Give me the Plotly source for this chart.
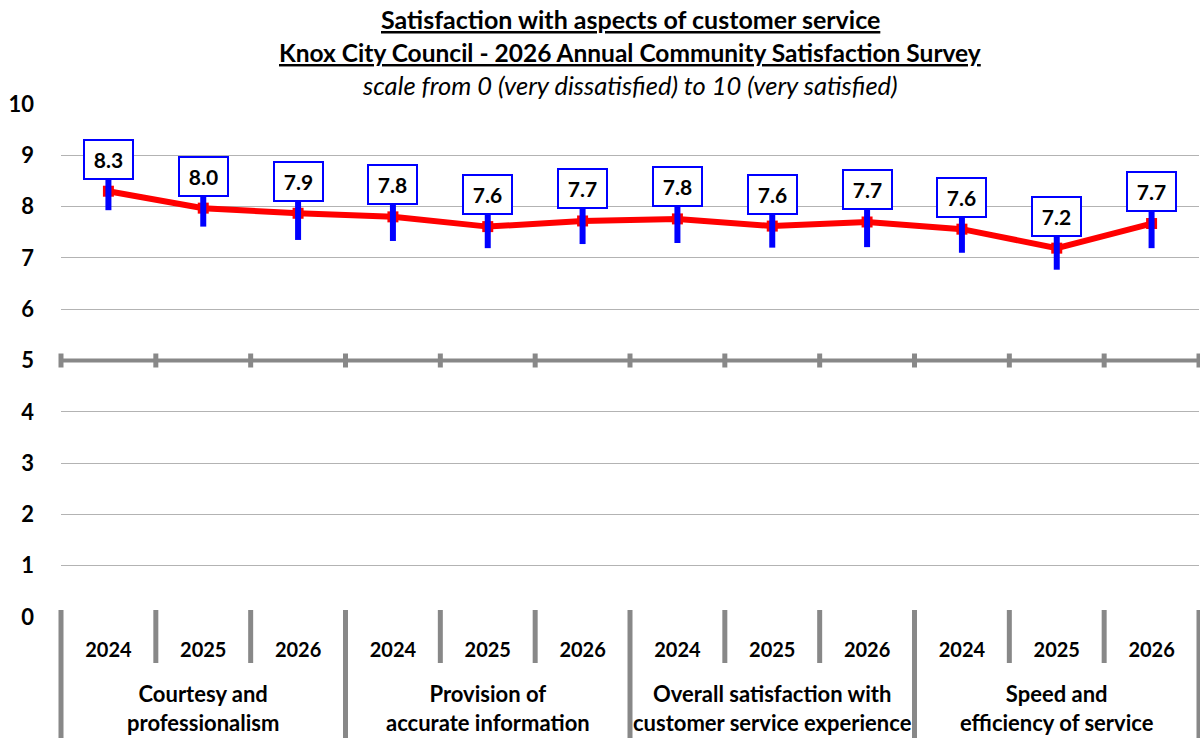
import plotly.graph_objects as go

groups = ["Courtesy and<br>professionalism",
          "Provision of<br>accurate information",
          "Overall satisfaction with<br>customer service experience",
          "Speed and<br>efficiency of service"]
years = ["2024", "2025", "2026"]
scores = [8.30, 7.97, 7.87, 7.80, 7.61, 7.72, 7.76, 7.62, 7.70, 7.56, 7.19, 7.67]
errors = [0.37, 0.36, 0.52, 0.47, 0.42, 0.45, 0.47, 0.42, 0.49, 0.46, 0.42, 0.48]
y_ticks = list(range(0, 11))
title_lines = ["<b><u>Satisfaction with aspects of customer service</u></b>",
               "<b><u>Knox City Council - 2026 Annual Community Satisfaction Survey</u></b>",
               "<i>scale from 0 (very dissatisfied) to 10 (very satisfied)</i>"]

FONT = "Lato"
GRAY = "#888888"
W, H = 1200, 738
WIN_LEFT, WIN_RIGHT, WIN_TOP, WIN_AXIS = 61, 1199, 104, 617
ML = WIN_LEFT
MR = W - WIN_RIGHT
MT = WIN_TOP
MB = H - WIN_AXIS
PLOT_H = WIN_AXIS - WIN_TOP

n = len(scores)
xs = list(range(n))
ticktext = [years[i % len(years)] for i in xs]
x_lo, x_hi = -0.5, n - 0.5


def xfrac(v):
    return (v - x_lo) / (x_hi - x_lo)


def pfrac(win_row):  # pixel row -> paper fraction
    return (WIN_AXIS - win_row) / PLOT_H


fig = go.Figure()
fig.add_trace(go.Scatter(
    x=xs, y=scores, mode="lines+markers",
    line=dict(color="#FF0000", width=6),
    marker=dict(symbol="square", size=11, color="#FF0000"),
    hoverinfo="skip", showlegend=False))
fig.add_trace(go.Scatter(
    x=xs, y=scores, mode="markers",
    marker=dict(size=1, color="rgba(0,0,0,0)"),
    error_y=dict(type="data", array=errors, symmetric=True,
                 color="#0000FF", thickness=6, width=0),
    hoverinfo="skip", showlegend=False))

shapes = []
shapes.append(dict(type="line", xref="x", yref="y", x0=x_lo, x1=x_hi, y0=5, y1=5,
                   line=dict(color=GRAY, width=4), layer="above"))
mid_row = WIN_AXIS - 0.5 * PLOT_H
for k in range(n + 1):
    shapes.append(dict(type="line", xref="paper", yref="paper",
                       x0=xfrac(k - 0.5), x1=xfrac(k - 0.5),
                       y0=pfrac(mid_row - 7), y1=pfrac(mid_row + 7),
                       line=dict(color=GRAY, width=5), layer="above"))
for k in range(n + 1):
    is_group = (k % len(years) == 0)
    shapes.append(dict(type="line", xref="paper", yref="paper",
                       x0=xfrac(k - 0.5), x1=xfrac(k - 0.5),
                       y0=pfrac(WIN_AXIS - 7), y1=pfrac(H + 10 if is_group else WIN_AXIS + 46),
                       line=dict(color=GRAY, width=5)))

annotations = []
for i, v in enumerate(scores):
    annotations.append(dict(x=i, y=v, xref="x", yref="y", yshift=32,
                            text=f"<b>{v:.1f}</b>", showarrow=False,
                            font=dict(family=FONT, size=21, color="black"),
                            bgcolor="white", bordercolor="#0000FF", borderwidth=2,
                            borderpad=3, width=41, height=31))
for g, name in enumerate(groups):
    c = g * len(years) + (len(years) - 1) / 2
    annotations.append(dict(x=xfrac(c), y=pfrac(708), xref="paper", yref="paper",
                            text=f"<b>{name}</b>", showarrow=False,
                            font=dict(family=FONT, size=22, color="black"),
                            yanchor="middle", xanchor="center"))
for row, txt, sz in zip([19, 52, 85], title_lines, [25, 24.5, 25.5]):
    annotations.append(dict(x=0.5, y=pfrac(row), xref="paper", yref="paper",
                            text=txt, showarrow=False, borderpad=0,
                            font=dict(family=FONT, size=sz, color="black"),
                            yanchor="middle", xanchor="center"))

fig.update_layout(
    width=W, height=H,
    margin=dict(l=ML, r=MR, t=MT, b=MB, autoexpand=False),
    paper_bgcolor="white", plot_bgcolor="white",
    font=dict(family=FONT, color="black"),
    xaxis=dict(range=[x_lo, x_hi], tickmode="array", tickvals=xs, ticktext=ticktext,
               showgrid=False, zeroline=False, showline=False, ticks="",
               automargin=False,
               tickfont=dict(family=FONT, size=20, color="black", weight="bold"),
               ticklabelstandoff=19),
    yaxis=dict(range=[0, 10], tickmode="array", tickvals=y_ticks,
               showgrid=True, gridcolor="#b3b3b3", gridwidth=1, zeroline=False,
               showline=False, ticks="", ticklabelstandoff=26, automargin=False,
               tickfont=dict(family=FONT, size=22, color="black", weight="bold")),
    shapes=shapes,
    annotations=annotations,
)
fig.write_html("out.html", config={"displayModeBar": False},
               post_script="document.body.style.margin='0';document.body.style.overflow='hidden';")
